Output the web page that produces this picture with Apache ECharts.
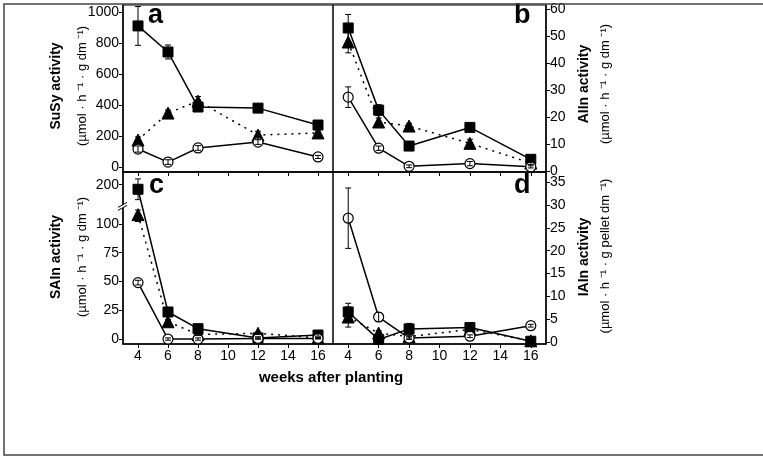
<!DOCTYPE html>
<html>
<head>
<meta charset="utf-8">
<title>SuSy / invertase activity</title>
<script src="https://cdn.jsdelivr.net/npm/echarts@6.0.0/dist/echarts.min.js"></script>
<style>
    html, body { margin: 0; padding: 0; background: #fff; }
    #main { width: 763px; height: 456px; }
</style>
</head>
<body>
<div id="main"></div>
<script type="text/javascript">
// x values (weeks after planting) and axis ticks
var weeks = [4, 6, 8, 12, 16];
var xTicks = [4, 6, 8, 10, 12, 14, 16];

// a: SuSy activity
var susySq = [910, 742, 387, 380, 271];
var susySqErr = [125, 45, 25, 20, 20];
var susyTri = [174, 348, 425, 206, 220];
var susyTriErr = [20, 20, 30, 25, 20];
var susyCirc = [116, 32, 123, 161, 65];
var susyCircErr = [20, 15, 15, 15, 10];
var susyTicks = [0, 200, 400, 600, 800, 1000];

// b: AIIn activity
var aiSq = [53, 22.6, 9.3, 16.2, 4.4];
var aiSqErr = [5, 2, 1.5, 1.2, 1];
var aiTri = [47.8, 18.2, 16.7, 10.3, 3];
var aiTriErr = [4, 1.5, 1, 1.5, 0.5];
var aiCirc = [27.4, 8.5, 1.8, 2.8, 1.6];
var aiCircErr = [3.8, 0.8, 0.5, 0.8, 0.4];
var aiTicks = [0, 10, 20, 30, 40, 50, 60];

// c: SAIn activity (axis broken between 112 and 178)
var saSq = [196, 23.5, 9, 1, 3.5];
var saSqErr = [9, 3, 2, 1, 1];
var saTri = [108, 15, 4, 5, 1];
var saTriErr = [6, 2, 1, 1, 0.5];
var saCirc = [49, 0, 0, 0.5, 0.5];
var saCircErr = [2, 1, 1, 0.5, 0.5];
var saTicks = [0, 25, 50, 75, 100, 200];

// d: IAIn activity
var iaSq = [6.6, 0.6, 2.9, 3.2, 0.2];
var iaSqErr = [1.9, 0.3, 1.2, 0.5, 0.2];
var iaTri = [5.5, 2, 1.2, 2.8, 0.3];
var iaTriErr = [2.2, 0.5, 0.3, 0.5, 0.2];
var iaCirc = [27.1, 5.5, 0.9, 1.3, 3.6];
var iaCircErr = [6.6, 1, 0.3, 0.3, 0.3];
var iaTicks = [0, 5, 10, 15, 20, 25, 30, 35];

// axis break for panel c
var BREAK_FROM = 112, BREAK_TO = 178, BREAK_SHIFT = BREAK_TO - BREAK_FROM;
function brk(v) {
    if (v <= BREAK_FROM) return v;
    if (v < BREAK_TO) return BREAK_FROM;
    return v - BREAK_SHIFT;
}
function ident(v) { return v; }

var FONT = 'Liberation Sans, Arial, sans-serif';

function lineSeries(idx, vals, kind, tf) {
    return {
        type: 'line',
        xAxisIndex: idx, yAxisIndex: idx,
        data: weeks.map(function (w, i) { return [w, tf(vals[i])]; }),
        lineStyle: { color: '#000', width: 1.5, type: kind === 'tri' ? [2, 5] : 'solid' },
        symbolSize: kind === 'tri' ? 12 : 10,
        symbol: kind === 'sq' ? 'rect' : (kind === 'tri' ? 'triangle' : 'circle'),
        itemStyle: kind === 'circ'
            ? { color: '#fff', borderColor: '#000', borderWidth: 1.2 }
            : { color: '#000', borderColor: '#000' },
        z: kind === 'circ' ? 3 : 2,
        silent: true,
        animation: false
    };
}

function errSeries(idx, vals, errs, tf) {
    return {
        type: 'custom',
        xAxisIndex: idx, yAxisIndex: idx,
        data: weeks.map(function (w, i) { return [w, tf(vals[i] - errs[i]), tf(vals[i] + errs[i])]; }),
        renderItem: function (params, api) {
            var lo = api.coord([api.value(0), api.value(1)]);
            var hi = api.coord([api.value(0), api.value(2)]);
            var st = { stroke: '#000', lineWidth: 1 };
            return {
                type: 'group',
                children: [
                    { type: 'line', shape: { x1: lo[0], y1: lo[1], x2: hi[0], y2: hi[1] }, style: st },
                    { type: 'line', shape: { x1: lo[0] - 3, y1: lo[1], x2: lo[0] + 3, y2: lo[1] }, style: st },
                    { type: 'line', shape: { x1: hi[0] - 3, y1: hi[1], x2: hi[0] + 3, y2: hi[1] }, style: st }
                ]
            };
        },
        z: 5,
        silent: true,
        animation: false
    };
}

function xAxis(idx, labels) {
    return {
        type: 'value', gridIndex: idx, min: 3, max: 17,
        axisLine: { show: true, onZero: false, lineStyle: { color: '#000', width: 1.5 } },
        axisTick: { show: true, length: 4, customValues: xTicks, lineStyle: { color: '#000' } },
        axisLabel: { show: labels, customValues: xTicks, color: '#000', fontSize: 14, fontFamily: FONT, margin: 5 },
        splitLine: { show: false }
    };
}

function yAxis(idx, min, max, ticks, pos, fmt) {
    return {
        type: 'value', gridIndex: idx, min: min, max: max, position: pos,
        axisLine: { show: true, onZero: false, lineStyle: { color: '#000', width: 1.5 } },
        axisTick: { show: true, length: 4, customValues: ticks, lineStyle: { color: '#000' } },
        axisLabel: { show: true, customValues: ticks, color: '#000', fontSize: 14, fontFamily: FONT, margin: 4,
                     formatter: fmt || function (v) { return String(v); } },
        splitLine: { show: false }
    };
}

function vText(x, y, text, bold, size) {
    return {
        type: 'text', x: x, y: y, rotation: Math.PI / 2,
        style: { text: text, font: (bold ? 'bold ' : '') + size + 'px ' + FONT, fill: '#000',
                 align: 'center', verticalAlign: 'middle', textAlign: 'center', textVerticalAlign: 'middle' }
    };
}

function letter(x, y, t) {
    return {
        type: 'text', x: x, y: y,
        style: { text: t, font: 'bold 27px ' + FONT, fill: '#000',
                 align: 'left', verticalAlign: 'top', textAlign: 'left', textVerticalAlign: 'top' }
    };
}

var saTicksT = saTicks.map(brk);

var chart = echarts.init(document.getElementById('main'));
chart.setOption({
    animation: false,
    grid: [
        { left: 123, top: 5, width: 210, height: 167, show: true, borderColor: '#000', borderWidth: 1, outerBoundsMode: 'none' },
        { left: 333, top: 5, width: 213, height: 167, show: true, borderColor: '#000', borderWidth: 1, outerBoundsMode: 'none' },
        { left: 123, top: 172, width: 210, height: 172, show: true, borderColor: '#000', borderWidth: 1, outerBoundsMode: 'none' },
        { left: 333, top: 172, width: 213, height: 172, show: true, borderColor: '#000', borderWidth: 1, outerBoundsMode: 'none' }
    ],
    xAxis: [xAxis(0, false), xAxis(1, false), xAxis(2, true), xAxis(3, true)],
    yAxis: [
        yAxis(0, -32, 1045, susyTicks, 'left'),
        yAxis(1, -0.3, 61.5, aiTicks, 'right'),
        yAxis(2, -4.3, 145, saTicksT, 'left', function (v) {
            return String(v > BREAK_FROM ? v + BREAK_SHIFT : v);
        }),
        yAxis(3, -0.4, 37.2, iaTicks, 'right')
    ],
    series: [
        lineSeries(0, susySq, 'sq', ident), lineSeries(0, susyTri, 'tri', ident), lineSeries(0, susyCirc, 'circ', ident),
        errSeries(0, susySq, susySqErr, ident), errSeries(0, susyTri, susyTriErr, ident), errSeries(0, susyCirc, susyCircErr, ident),

        lineSeries(1, aiSq, 'sq', ident), lineSeries(1, aiTri, 'tri', ident), lineSeries(1, aiCirc, 'circ', ident),
        errSeries(1, aiSq, aiSqErr, ident), errSeries(1, aiTri, aiTriErr, ident), errSeries(1, aiCirc, aiCircErr, ident),

        lineSeries(2, saSq, 'sq', brk), lineSeries(2, saTri, 'tri', brk), lineSeries(2, saCirc, 'circ', brk),
        errSeries(2, saSq, saSqErr, brk), errSeries(2, saTri, saTriErr, brk), errSeries(2, saCirc, saCircErr, brk),

        lineSeries(3, iaSq, 'sq', ident), lineSeries(3, iaTri, 'tri', ident), lineSeries(3, iaCirc, 'circ', ident),
        errSeries(3, iaSq, iaSqErr, ident), errSeries(3, iaTri, iaTriErr, ident), errSeries(3, iaCirc, iaCircErr, ident)
    ]
});

// axis break mark on panel c
var bp = chart.convertToPixel({ gridIndex: 2 }, [3, BREAK_FROM + 4]);
var bx = bp[0], by = bp[1];

chart.setOption({
    graphic: [
        // outer frame
        { type: 'rect', shape: { x: 4, y: 4, width: 800, height: 451 },
          style: { fill: null, stroke: '#444', lineWidth: 1.5 }, z: 100 },

        letter(148, 2, 'a'), letter(514, 2, 'b'), letter(149, 172, 'c'), letter(514, 172, 'd'),

        vText(56, 86, 'SuSy activity', true, 14),
        vText(82, 86, '(µmol · h ⁻¹ · g dm ⁻¹)', false, 13),
        vText(56, 257, 'SAIn activity', true, 14),
        vText(82, 257, '(µmol · h ⁻¹ · g dm ⁻¹)', false, 13),
        vText(584, 84, 'AIIn activity', true, 14),
        vText(605, 84, '(µmol · h ⁻¹ · g dm ⁻¹)', false, 13),
        vText(584, 257, 'IAIn activity', true, 14),
        vText(605, 256, '(µmol · h ⁻¹ · g pellet dm ⁻¹)', false, 13),

        { type: 'text', x: 331, y: 378,
          style: { text: 'weeks after planting', font: 'bold 15px ' + FONT, fill: '#000',
                   align: 'center', verticalAlign: 'middle', textAlign: 'center', textVerticalAlign: 'middle' } },

        // break
        { type: 'polygon', shape: { points: [[bx - 5, by + 2], [bx + 4, by - 3], [bx + 4, by], [bx - 5, by + 5]] },
          style: { fill: '#fff' }, z: 50 },
        { type: 'line', shape: { x1: bx - 5, y1: by + 2, x2: bx + 4, y2: by - 3 }, style: { stroke: '#000', lineWidth: 1 }, z: 51 },
        { type: 'line', shape: { x1: bx - 5, y1: by + 5, x2: bx + 4, y2: by }, style: { stroke: '#000', lineWidth: 1 }, z: 51 }
    ]
});
</script>
</body>
</html>
